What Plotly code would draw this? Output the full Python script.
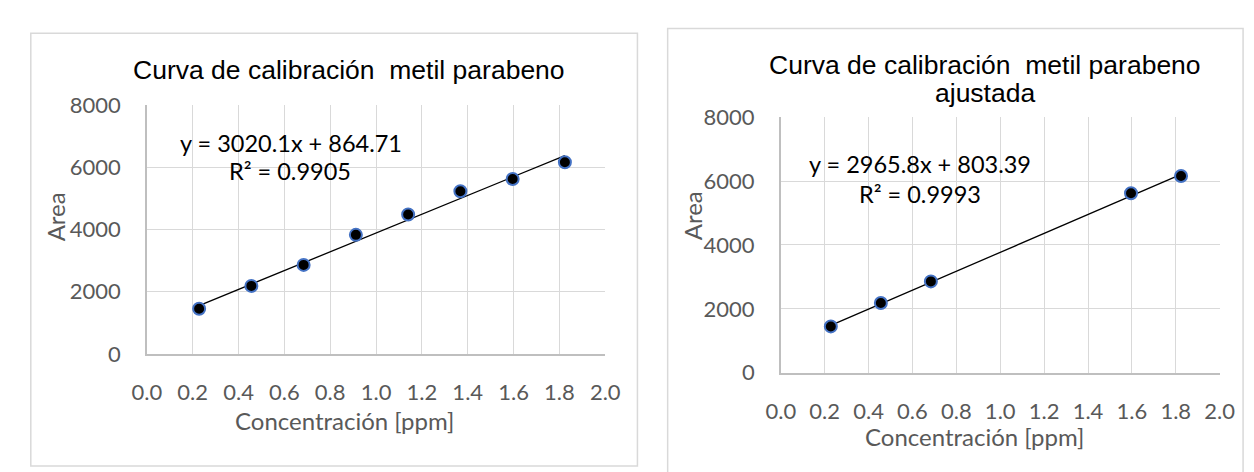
import plotly.graph_objects as go

# ---------------- data ----------------
conc_all = [0.228, 0.456, 0.684, 0.912, 1.140, 1.368, 1.596, 1.824]
area_all = [1450, 2185, 2860, 3825, 4480, 5225, 5620, 6160]

conc_adj = [0.228, 0.456, 0.684, 1.596, 1.824]
area_adj = [1450, 2185, 2860, 5620, 6160]

fit_all = (3020.1, 864.71, 0.9905)
fit_adj = (2965.8, 803.39, 0.9993)

title_left = "Curva de calibración  metil parabeno"
title_right = ["Curva de calibración  metil parabeno", "ajustada"]
x_title = "Concentración [ppm]"
y_title = "Area"
x_ticks = [0.0, 0.2, 0.4, 0.6, 0.8, 1.0, 1.2, 1.4, 1.6, 1.8, 2.0]
y_ticks = [0, 2000, 4000, 6000, 8000]

# ---------------- layout helpers ----------------
W, H = 1254, 472
def px(x):
    return x / W
def py(y):
    return (H - y) / H

TICK_FONT = dict(family="Lato, Carlito, Calibri, sans-serif", size=22, color="#595959")
AX_FONT = dict(family="Lato, Carlito, Calibri, sans-serif", size=24, color="#595959")
EQ_FONT = dict(family="Lato, Carlito, Calibri, sans-serif", size=23.5, color="#000000")
TITLE_FONT = dict(family="Liberation Sans, Arial, sans-serif", size=26.5, color="#000000")

fig = go.Figure()

panels = [
    dict(x=conc_all, y=area_all, fit=fit_all, xa="x", ya="y",
         xdom=[px(127), px(597)], ydom=[py(352), py(88)]),
    dict(x=conc_adj, y=area_adj, fit=fit_adj, xa="x2", ya="y2",
         xdom=[px(777), px(1227)], ydom=[py(372), py(101)]),
]

for p in panels:
    m, b, r2 = p["fit"]
    xs = [min(p["x"]), max(p["x"])]
    ys = [m * v + b for v in xs]
    fig.add_trace(go.Scatter(x=xs, y=ys, mode="lines", xaxis=p["xa"], yaxis=p["ya"],
                             line=dict(color="#000000", width=1.3), showlegend=False,
                             hoverinfo="skip"))
    fig.add_trace(go.Scatter(x=p["x"], y=p["y"], mode="markers", xaxis=p["xa"], yaxis=p["ya"],
                             marker=dict(size=12, color="#000000",
                                         line=dict(color="#4472C4", width=2)),
                             showlegend=False))

axis_common = dict(
    showgrid=True, gridcolor="#d9d9d9", gridwidth=1,
    zeroline=False, showline=True, linecolor="#bfbfbf", linewidth=1.5,
    ticks="outside", tickcolor="rgba(0,0,0,0)",
    tickfont=TICK_FONT, fixedrange=True,
)

fig.update_layout(
    width=W, height=H, margin=dict(l=0, r=0, t=0, b=0),
    paper_bgcolor="white", plot_bgcolor="white",
    xaxis=dict(domain=panels[0]["xdom"], range=[0, 2], tickvals=x_ticks,
               tickformat=".1f", ticklen=18, anchor="y", **axis_common),
    yaxis=dict(domain=panels[0]["ydom"], range=[0, 8000], tickvals=y_ticks,
               ticklen=20, anchor="x", **axis_common),
    xaxis2=dict(domain=panels[1]["xdom"], range=[0, 2], tickvals=x_ticks,
                tickformat=".1f", ticklen=18, anchor="y2", **axis_common),
    yaxis2=dict(domain=panels[1]["ydom"], range=[0, 8000], tickvals=y_ticks,
                ticklen=20, anchor="x2", **axis_common),
)

# chart frames
fig.add_shape(type="rect", xref="paper", yref="paper",
              x0=px(8), x1=px(630), y0=py(471), y1=py(12),
              line=dict(color="#d9d9d9", width=1.5), layer="below")
fig.add_shape(type="rect", xref="paper", yref="paper",
              x0=px(661), x1=px(1251), y0=py(478), y1=py(7),
              line=dict(color="#d9d9d9", width=1.5), layer="below")

ann = []
# titles
ann.append(dict(text=title_left, x=px(334), y=py(51), font=TITLE_FONT))
ann.append(dict(text=title_right[0], x=px(986), y=py(45.5), font=TITLE_FONT))
ann.append(dict(text=title_right[1], x=px(986), y=py(75.5), font=TITLE_FONT))
# axis titles
ann.append(dict(text=y_title, x=px(33), y=py(207), textangle=-90, font=AX_FONT))
ann.append(dict(text=y_title, x=px(686), y=py(206), textangle=-90, font=AX_FONT))
ann.append(dict(text=x_title, x=px(330), y=py(423), font=AX_FONT))
ann.append(dict(text=x_title, x=px(976), y=py(439.5), font=AX_FONT))
for a in ann:
    a.update(xref="paper", yref="paper", showarrow=False, xanchor="center", yanchor="middle")

# equations (data coordinates)
eq_pos = [("x", "y", 0.63, 6791, 0.625, 5864), ("x2", "y2", 0.635, 6542, 0.635, 5606)]
for p, (xr, yr, ex, ey, rx, ry) in zip(panels, eq_pos):
    m, b, r2 = p["fit"]
    ann.append(dict(text=f"y = {m}x + {b}", x=ex, y=ey, xref=xr, yref=yr,
                    showarrow=False, font=EQ_FONT, xanchor="center", yanchor="middle"))
    ann.append(dict(text=f"R² = {r2}", x=rx, y=ry, xref=xr, yref=yr,
                    showarrow=False, font=EQ_FONT, xanchor="center", yanchor="middle"))

fig.update_layout(annotations=ann)

fig.write_html("out.html")
